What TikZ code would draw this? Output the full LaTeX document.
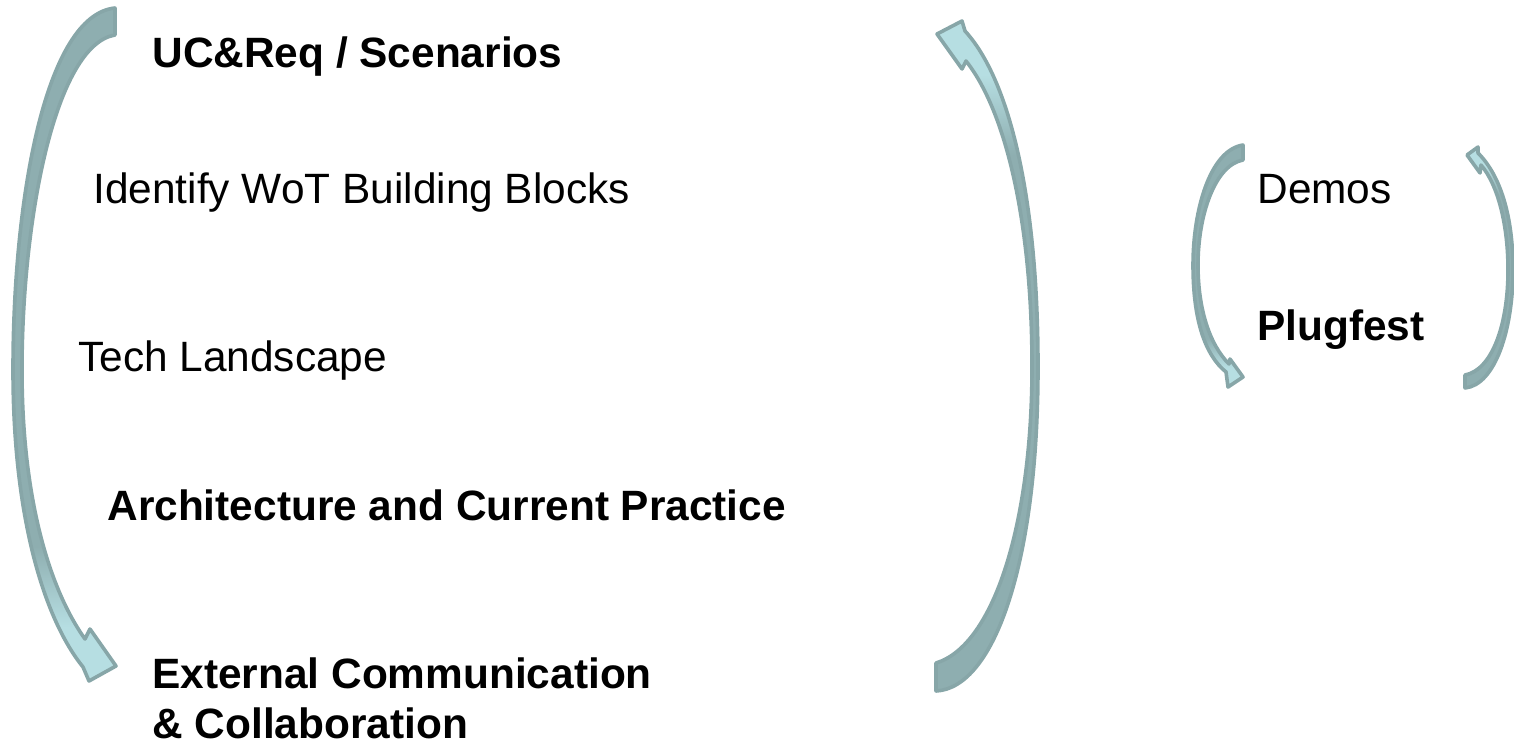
\documentclass[tikz,border=0pt]{standalone}
\usepackage{fontspec}
\setmainfont{Liberation Sans}
\usepackage{tikz}
\usetikzlibrary{positioning}

\definecolor{arrline}{HTML}{87A6A8}
\definecolor{arrdark}{HTML}{8EAEB0}
\definecolor{arrlight}{HTML}{B6DEE2}
\pgfdeclareverticalshading{headdown}{100bp}{color(0bp)=(arrlight); color(29bp)=(arrlight); color(35bp)=(arrdark); color(100bp)=(arrdark)}
\pgfdeclareverticalshading{headup}{100bp}{color(0bp)=(arrdark); color(65bp)=(arrdark); color(71bp)=(arrlight); color(100bp)=(arrlight)}

\begin{document}
\begin{tikzpicture}[x=0.5pt, y=-0.5pt,
lbl/.style={anchor=base west, inner sep=0pt, font=\fontsize{21.2}{25}\selectfont},
blbl/.style={lbl, font=\fontsize{21.2}{25}\selectfont\bfseries},
down/.style={draw=arrline, line width=1.8pt, line join=round, shading=headdown},
up/.style={draw=arrline, line width=1.8pt, line join=round, shading=headup}]
\useasboundingbox (0,0) rectangle (1514,744);
% big left arrow
\shade[down] (115,8) .. controls (45,15) and (13,200) .. (13,370)
  .. controls (13,520) and (45,620) .. (83,667) -- (89,681) -- (116,666) -- (90,629) -- (85,639)
  .. controls (50,590) and (22,500) .. (22,370) .. controls (22,220) and (55,45) .. (115,35) -- cycle;
% big right arrow
\shade[up] (936,691) .. controls (995,688) and (1038,560) .. (1038,367)
  .. controls (1038,200) and (1010,80) .. (965,31) -- (962,21) -- (937,34) -- (962,69) -- (966,61)
  .. controls (1005,110) and (1032,220) .. (1032,367) .. controls (1032,520) and (995,645) .. (936,663) -- cycle;
% small left arrow
\shade[down] (1243,145) .. controls (1210,150) and (1193,210) .. (1193,265)
  .. controls (1193,320) and (1205,355) .. (1226,372) -- (1228,387) -- (1243,377) -- (1230,359) -- (1229,364)
  .. controls (1210,345) and (1198,310) .. (1198,265) .. controls (1198,215) and (1215,165) .. (1243,160) -- cycle;
% small right arrow
\shade[up] (1465,388) .. controls (1495,385) and (1513,330) .. (1513,270)
  .. controls (1513,215) and (1500,175) .. (1478,153) -- (1478,147) -- (1467,155) -- (1480,173) -- (1481,165)
  .. controls (1498,185) and (1508,225) .. (1508,270) .. controls (1508,325) and (1492,370) .. (1465,375) -- cycle;
% labels
\node[blbl] (uc) at (152,67) {UC\&Req / Scenarios};
\node[lbl] (wot) at (93,203) {Identify WoT Building Blocks};
\node[lbl] (tech) at (78,371) {Tech Landscape};
\node[blbl] (arch) at (107,520) {Architecture and Current Practice};
\node[blbl, align=left] (ext) at (152,738) {External Communication\\\& Collaboration};
\node[lbl] (demos) at (1257,203) {Demos};
\node[blbl] (plug) at (1257,340) {Plugfest};
\end{tikzpicture}
\end{document}
